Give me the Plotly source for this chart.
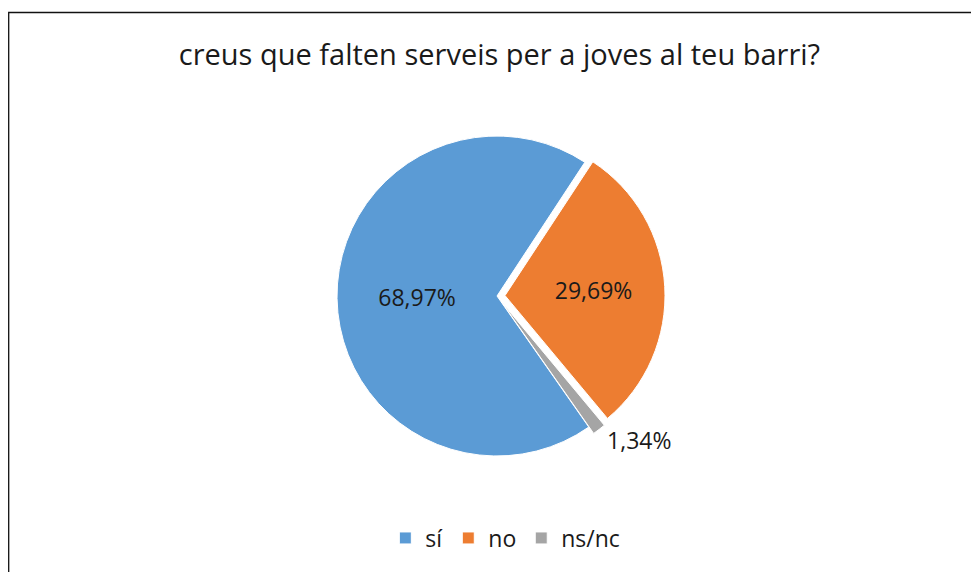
import plotly.graph_objects as go

labels = ["sí", "no", "ns/nc"]
values = [68.97, 29.69, 1.34]
colors = ["#5B9BD5", "#ED7D31", "#A5A5A5"]
pulls = [0, 0.05, 0.05]
title_text = "creus que falten serveis per a joves al teu barri?"

W, H = 979, 572
fig = go.Figure(go.Pie(
    labels=labels, values=values, sort=False, direction="clockwise", rotation=145,
    marker=dict(colors=colors, line=dict(color="white", width=1)),
    pull=pulls,
    texttemplate="%{percent:.2%}",
    textposition=["inside", "inside", "outside"],
    insidetextorientation="horizontal",
    textfont=dict(size=23, color="#1a1a1a", family="Open Sans"),
    domain=dict(x=[0.3279, 0.6711], y=[0.2028, 0.7902]),
    hoverinfo="label+percent",
))
fig.update_layout(
    width=W, height=H,
    margin=dict(l=0, r=0, t=0, b=0),
    separators=",.",
    paper_bgcolor="white",
    font=dict(family="Open Sans", color="#1a1a1a"),
    title=dict(text=title_text, x=0.502, xanchor="center", y=1 - 47 / H, yanchor="middle",
               yref="container", font=dict(size=29, color="#1a1a1a", family="Open Sans")),
    legend=dict(orientation="h", x=0.508, xanchor="center", y=1 - 530 / H, yanchor="middle",
                font=dict(size=23, family="Open Sans", color="#1a1a1a"), itemwidth=30,
                traceorder="normal"),
    shapes=[dict(type="rect", xref="paper", yref="paper",
                 x0=0.7 / W, x1=1.02, y0=-0.02, y1=1 - 4.5 / H,
                 line=dict(color="#111", width=1.3))],
)
fig.write_html("out.html")
